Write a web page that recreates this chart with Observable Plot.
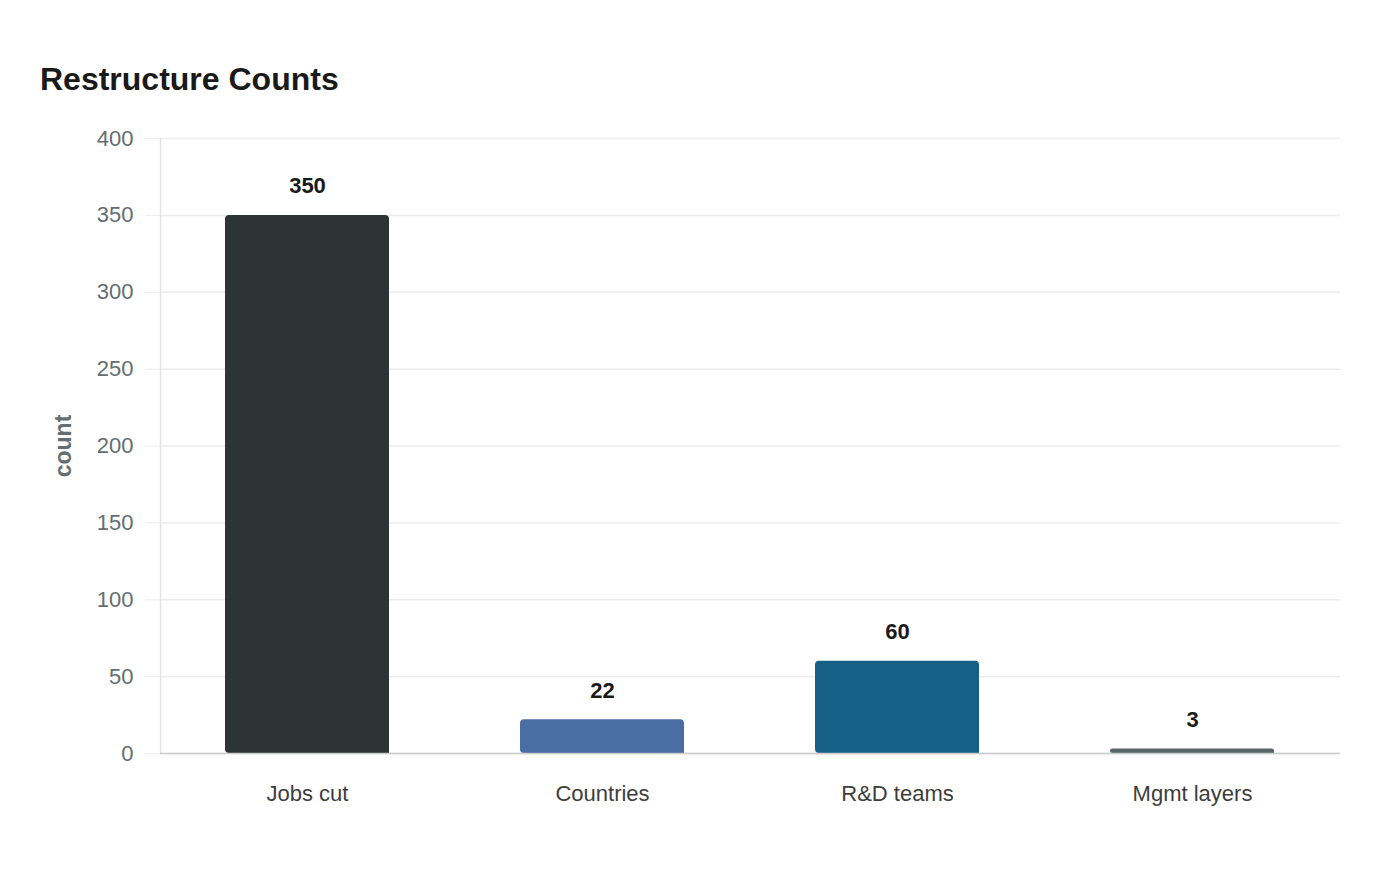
<!DOCTYPE html>
<html>
<head>
<meta charset="utf-8">
<script src="https://cdn.jsdelivr.net/npm/d3@7"></script>
<script src="https://cdn.jsdelivr.net/npm/@observablehq/plot@0.6"></script>
<style>
  html, body { margin: 0; padding: 0; background: #fff; }
  body { width: 1400px; height: 880px; overflow: hidden; font-family: "Liberation Sans", Arial, sans-serif; }
  #title { position: absolute; left: 40px; top: 61px; font-size: 32px; font-weight: bold; color: #1a1a1a; }
  #chart { position: absolute; left: 0; top: 110px; }
</style>
</head>
<body>
<div id="title">Restructure Counts</div>
<div id="chart"></div>
<script>
const categories = ["Jobs cut", "Countries", "R&D teams", "Mgmt layers"];
const counts = [350, 22, 60, 3];
const colors = ["#2d3436", "#4a6da4", "#166088", "#56676a"];
const yTicks = [0, 50, 100, 150, 200, 250, 300, 350, 400];

const data = categories.map((c, i) => ({category: c, count: counts[i], color: colors[i]}));

const chart = Plot.plot({
  width: 1400,
  height: 770,
  marginTop: 28,
  marginBottom: 127,
  marginLeft: 160,
  marginRight: 60,
  style: {fontFamily: "Liberation Sans, Arial, sans-serif", fontSize: "22px", background: "#fff"},
  x: {domain: categories, paddingInner: 0.444, paddingOuter: 0.222, label: null},
  y: {domain: [0, 400], label: null},
  marks: [
    Plot.ruleY(yTicks, {stroke: "#ececec", strokeWidth: 1.5}),
    Plot.axisY({ticks: yTicks, tickSize: 15, tickPadding: 12, stroke: "#ececec", fill: "#636e72", fontSize: 22, label: null, tickFormat: d => String(d)}),
    Plot.axisY({ticks: [], label: "count", labelAnchor: "center", labelOffset: 106, labelArrow: "none", fontSize: 23, fontWeight: "bold", fill: "#636e72"}),
    Plot.frame({anchor: "left", stroke: "#e3e3e3", strokeWidth: 1.5}),
    Plot.barY(data, {x: "category", y: "count", fill: "color", ry1: 4, rx1: 4}),
    Plot.ruleY([0], {stroke: "#cccccc", strokeWidth: 1.5}),
    Plot.axisX({tickSize: 0, tickPadding: 32, fontSize: 22, fill: "#3d3d3d", label: null}),
    Plot.text(data, {x: "category", y: "count", text: d => String(d.count), dy: -29, fontSize: 22, fontWeight: "bold", fill: "#1a1a1a"})
  ]
});
document.getElementById("chart").appendChild(chart);
</script>
</body>
</html>
